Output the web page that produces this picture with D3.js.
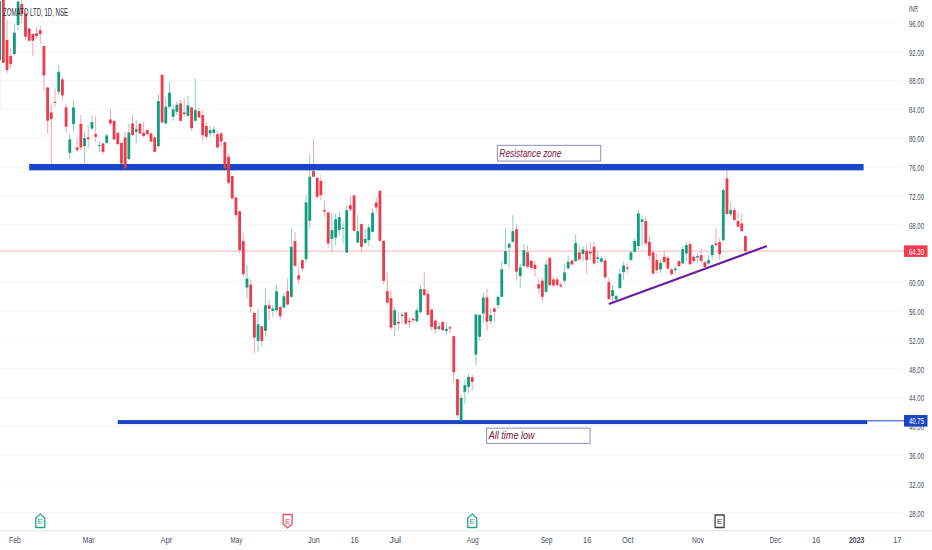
<!DOCTYPE html>
<html>
<head>
<meta charset="utf-8">
<script src="https://cdn.jsdelivr.net/npm/d3@7"></script>
<style>
body { margin: 0; background: #fff; overflow: hidden; }
text { font-family: "Liberation Sans", Arial, sans-serif; }
</style>
</head>
<body>
<script>
let width = 932
let height = 550

let opens = [90.82,99.5,93.59,91.37,91.65,95.68,98.59,97.3,95.22,94.43,
94.52,94.98,92.76,87.02,83.55,85.03,86.42,88.13,84.24,77.94,
81.93,78.69,81.97,78.87,80.07,81.32,80.54,78.87,79.24,79.33,
82.57,82.39,80.72,79.33,80.07,77.07,82.02,80.86,81.97,80.72,
81.09,80.63,80.07,78.87,88.78,82.02,84.33,82.94,83.64,84.8,
83.55,83.08,84.24,82.39,83.73,83.18,81.65,80.63,80.72,80.54,
80.63,79.43,77.39,74.75,71.75,69.85,65.68,59.25,59.66,55.73,
51.84,53.88,53.23,56.79,56.0,56.1,56.56,56.47,58.74,57.95,
65.68,60.96,63.05,63.18,68.51,75.41,74.48,74.02,69.99,69.67,
66.01,66.19,67.21,67.4,64.11,70.68,72.03,65.5,68.04,65.45,
65.82,66.98,71.05,72.67,65.73,58.74,57.77,54.02,54.48,55.31,
55.78,54.62,54.9,54.57,55.82,59.02,58.37,56.19,54.66,53.51,
54.48,53.23,53.74,52.5,46.53,40.74,44.77,45.46,46.81,49.95,
52.41,55.65,57.87,54.58,56.34,56.8,57.96,62.5,64.77,65.6,
67.36,60.83,62.22,64.12,62.96,62.41,59.72,60.19,58.66,63.38,
60.37,60.37,59.63,60.19,61.9,63.01,62.92,64.12,63.89,64.35,
64.21,64.91,63.2,62.82,63.01,60.0,58.06,57.59,59.17,61.39,
62.04,63.06,64.21,65.0,68.38,68.47,65.6,64.12,63.05,61.75,
63.51,63.37,61.75,61.66,62.91,62.59,63.98,65.27,63.51,63.42,
63.74,62.77,62.59,63.74,65.37,65.55,65.83,74.39,69.44,70.0,
68.47,68.14,66.38]

let closes = [99.0,90.45,89.43,90.26,94.61,98.92,97.21,94.06,93.5,93.5,
94.15,94.43,88.69,82.39,82.62,84.89,89.2,85.91,81.56,79.8,
84.24,78.32,78.69,79.98,79.84,82.2,80.17,79.01,78.08,80.35,
82.02,79.8,79.15,76.46,75.77,80.77,80.4,81.23,80.63,80.26,
80.54,79.52,78.08,85.12,82.16,84.33,86.28,83.96,84.61,82.39,
83.32,84.52,81.37,83.87,82.85,80.4,80.17,81.09,81.19,78.69,
79.52,75.77,73.78,71.6,69.29,64.43,61.1,60.5,56.56,52.3,
54.15,51.84,56.79,56.28,56.33,58.74,55.27,58.04,56.89,64.9,
62.26,60.36,61.89,71.05,74.62,74.62,71.84,72.07,69.8,65.36,
67.21,68.74,69.02,67.54,69.99,70.08,67.12,67.07,64.9,66.01,
67.58,69.62,70.36,65.73,60.17,57.16,53.69,56.1,54.25,55.5,
54.25,54.43,54.71,56.1,59.02,58.18,55.45,53.78,53.46,53.88,
53.32,53.51,53.55,47.5,41.53,43.93,45.69,46.85,46.16,55.51,
55.46,57.87,54.49,55.42,55.88,57.96,61.76,64.31,65.28,67.08,
61.44,62.04,64.44,62.13,61.99,61.81,59.12,57.96,62.45,59.58,
59.54,59.58,59.4,61.34,62.82,62.45,65.42,63.15,64.54,63.06,
63.98,62.59,63.43,63.29,60.65,57.64,58.89,58.06,61.16,62.32,
61.85,64.12,65.7,69.54,68.7,65.37,63.65,61.2,61.66,62.68,
62.77,61.89,61.1,61.89,62.22,64.58,65.13,62.49,62.91,63.61,
62.91,62.12,63.05,65.13,65.13,63.88,72.77,69.44,70.0,68.61,
67.68,67.08,64.3]

let highs = [99.5,99.8,96.37,92.44,95.91,99.15,99.15,97.76,95.22,94.52,
95.45,95.54,92.76,87.02,84.7,86.88,90.12,88.41,84.8,80.54,
85.26,80.07,83.18,80.95,81.79,83.18,83.04,79.6,79.33,80.63,
83.96,82.39,80.81,79.33,80.86,82.02,83.32,82.48,82.11,82.25,
81.32,80.86,80.4,86.09,88.78,85.63,87.71,84.57,85.03,85.35,
85.49,85.82,84.33,88.27,84.24,83.87,82.2,81.65,81.74,80.99,
80.86,79.43,77.76,74.75,71.84,69.85,66.75,62.35,60.36,55.73,
56.33,53.88,59.11,57.49,56.79,59.57,56.66,58.51,60.5,67.44,
66.98,62.12,63.14,72.07,77.72,79.8,74.53,74.85,71.24,69.76,
69.67,69.53,69.76,68.37,70.68,71.93,72.03,69.29,68.14,67.44,
68.04,70.22,71.75,72.77,65.73,61.33,58.88,56.56,55.87,55.87,
55.87,55.17,55.17,56.47,59.57,61.42,58.97,56.24,54.94,54.48,
54.52,54.48,53.92,52.5,46.53,44.31,46.39,47.22,47.22,55.51,
55.46,58.52,59.12,56.34,56.57,58.19,62.96,67.45,65.6,69.31,
68.15,62.59,65.28,65.14,63.15,62.96,60.42,60.65,63.06,63.43,
60.74,60.74,60.05,62.45,63.61,63.15,66.62,65.14,65.0,65.37,
65.46,65.6,64.21,63.52,63.52,60.65,59.58,58.2,61.9,62.83,
62.59,64.45,66.07,70.0,69.3,69.16,66.48,64.53,63.98,63.05,
64.35,63.61,62.03,62.12,63.05,65.0,65.6,65.69,63.74,63.98,
64.67,62.87,63.74,65.27,67.45,66.06,73.0,75.55,71.15,70.37,
69.76,69.53,66.38]

let lows = [84.33,90.4,88.96,89.66,91.51,94.98,95.91,93.59,93.36,91.37,
93.83,93.04,86.56,80.63,76.09,84.33,85.95,85.17,80.72,77.16,
80.86,78.04,78.32,76.56,78.55,81.09,79.47,78.04,77.62,79.15,
81.74,79.7,79.01,76.37,75.54,76.93,80.26,79.24,80.49,80.17,
80.4,79.33,77.99,78.69,82.02,81.93,84.1,82.39,83.18,82.25,
82.94,82.94,80.96,82.25,82.71,79.6,79.8,80.17,80.17,78.55,
78.78,75.63,73.59,71.46,68.83,63.97,60.73,57.72,55.73,50.08,
50.31,51.01,52.4,54.71,55.17,55.87,54.8,56.33,56.79,57.86,
62.12,59.71,61.42,62.67,67.44,74.53,71.47,71.38,69.06,64.8,
64.2,65.13,66.52,65.36,64.06,69.76,66.98,65.36,64.11,65.27,
64.99,66.84,69.62,65.59,59.71,56.79,53.32,52.49,53.32,54.25,
54.02,53.69,54.25,54.34,55.64,58.04,55.36,53.32,52.86,53.32,
53.23,52.63,52.86,46.02,41.2,40.65,43.15,44.54,45.0,48.47,
51.85,54.26,53.24,54.17,54.49,56.34,57.87,62.36,61.9,65.46,
60.19,59.21,62.13,61.9,61.67,60.74,58.43,57.27,58.43,59.44,
59.35,59.44,59.21,59.72,61.76,62.36,62.82,62.92,62.82,61.11,
63.15,62.36,62.69,62.59,60.51,57.5,57.27,57.41,59.07,60.28,
61.2,62.96,64.12,64.45,65.0,65.0,63.05,60.97,61.2,61.29,
62.59,61.66,60.87,61.29,62.03,62.49,62.82,62.36,62.68,62.68,
62.68,62.03,62.45,63.14,65.0,63.14,65.6,69.3,69.07,68.51,
67.54,66.99,64.07]

// 64 sits under the last price tag, 40 only peeks out below the low tag
let priceTicks = [96,92,88,84,80,76,72,68,60,56,52,48,44,40,36,32,28]
let dateTickLabels = ["Feb","Mar","Apr","May","Jun","16","Jul","Aug","Sep","16","Oct","Nov","Dec","16","2023","17"]
let dateTickIndex = [4,24,45,64,85,96,107,128,148,159,170,189,210,221,232,243]
let earningsIndex = [11,78,128,195]
let earningsKind = ["up","down","up","flat"]
let lastPrice = 64.30
let lowPrice = 40.75

let red = "#ee3b4c"
let green = "#0f9d7f"
let blue = "#1a46c6"

let x = d3.scaleLinear().domain([0,245]).range([-0.36,904.2])
let y = d3.scaleLinear().domain([96,28]).range([22.7,512.7])

let svg = d3.select("body")
    .append("svg")
    .attr("width", width)
    .attr("height", height)
    .style("display", "block")

// gridlines
svg.append("g").selectAll("line")
    .data(priceTicks)
    .enter()
    .append("line")
    .attr("x1", 0)
    .attr("x2", 903)
    .attr("y1", d => y(d))
    .attr("y2", d => y(d))
    .attr("stroke", "#f4f4f5")

// last price line
svg.append("line")
    .attr("x1", 0)
    .attr("x2", 904)
    .attr("y1", y(lastPrice))
    .attr("y2", y(lastPrice))
    .attr("stroke", "#f5b5bb")

let candles = d3.range(opens.length)

// wicks go under the zone lines, bodies on top
svg.append("g").selectAll("line")
    .data(candles)
    .enter()
    .append("line")
    .attr("x1", d => x(d))
    .attr("x2", d => x(d))
    .attr("y1", d => y(highs[d]))
    .attr("y2", d => y(lows[d]))
    .attr("stroke", d => closes[d] >= opens[d] ? "#8ccfbf" : "#f6a5ad")
    .attr("stroke-width", 1)

// resistance and support zones
svg.append("rect")
    .attr("x", x(8))
    .attr("width", x(234) - x(8))
    .attr("y", y(76.39))
    .attr("height", y(75.51) - y(76.39))
    .attr("fill", blue)

svg.append("rect")
    .attr("x", x(32))
    .attr("width", x(235) - x(32))
    .attr("y", y(40.85))
    .attr("height", y(40.3) - y(40.85))
    .attr("fill", blue)

svg.append("line")
    .attr("x1", x(235))
    .attr("x2", x(245))
    .attr("y1", y(lowPrice))
    .attr("y2", y(lowPrice))
    .attr("stroke", blue)

svg.append("g").selectAll("rect")
    .data(candles)
    .enter()
    .append("rect")
    .attr("x", d => x(d) - 1.4)
    .attr("width", 2.8)
    .attr("y", d => y(Math.max(opens[d], closes[d])))
    .attr("height", d => Math.max(1, Math.abs(y(opens[d]) - y(closes[d]))))
    .attr("fill", d => closes[d] >= opens[d] ? green : red)

// trend line
svg.append("line")
    .attr("x1", x(165))
    .attr("x2", x(207.8))
    .attr("y1", y(56.95))
    .attr("y2", y(65))
    .attr("stroke", "#6a1f9e")
    .attr("stroke-width", 2.2)

// note boxes
function note(i0, i1, top, bottom, label, labelWidth) {
    svg.append("rect")
        .attr("x", x(i0))
        .attr("width", x(i1) - x(i0))
        .attr("y", y(top))
        .attr("height", y(bottom) - y(top))
        .attr("fill", "#fff")
        .attr("stroke", "#8f8cc4")
    svg.append("text")
        .attr("x", x(i0) + 2)
        .attr("y", y(bottom) - 4)
        .attr("font-size", 10)
        .attr("font-style", "italic")
        .attr("fill", "#7c1334")
        .attr("textLength", labelWidth)
        .attr("lengthAdjust", "spacingAndGlyphs")
        .text(label)
}
note(134.8, 162.8, 78.98, 76.8, "Resistance zone", 62)
note(131.9, 159.9, 39.74, 37.62, "All time low", 46)

// title
svg.append("text")
    .attr("x", 3)
    .attr("y", 15.5)
    .attr("font-size", 10)
    .attr("fill", "#2a2e39")
    .attr("textLength", 65)
    .attr("lengthAdjust", "spacingAndGlyphs")
    .text("ZOMATO LTD, 1D, NSE")

// bottom axis line
svg.append("line")
    .attr("x1", 0)
    .attr("x2", width)
    .attr("y1", 530.7)
    .attr("y2", 530.7)
    .attr("stroke", "#e4e4e6")

let xAxis = svg.append("g")
    .attr("transform", "translate(0,531)")
    .call(d3.axisBottom(x)
        .tickValues(dateTickIndex)
        .tickSize(0)
        .tickPadding(5.5)
        .tickFormat((d, i) => dateTickLabels[i]))
xAxis.select(".domain").remove()
xAxis.selectAll("text")
    .attr("font-size", 9.5)
    .attr("font-family", "Liberation Sans")
    .attr("fill", "#4a4e59")
    .attr("font-weight", (d, i) => dateTickLabels[i] == "2023" ? "bold" : "normal")
    .attr("textLength", (d, i) => dateTickLabels[i].length * 3.6 + 1)
    .attr("lengthAdjust", "spacingAndGlyphs")

let yAxis = svg.append("g")
    .attr("transform", "translate(904,0.5)")
    .call(d3.axisRight(y)
        .tickValues(priceTicks)
        .tickSize(0)
        .tickPadding(5)
        .tickFormat(d3.format(".2f")))
yAxis.select(".domain").remove()
yAxis.selectAll("text")
    .attr("font-size", 9.5)
    .attr("font-family", "Liberation Sans")
    .attr("fill", "#4a4e59")
    .attr("textLength", 15)
    .attr("lengthAdjust", "spacingAndGlyphs")

svg.append("text")
    .attr("x", 909)
    .attr("y", 12)
    .attr("font-size", 9.5)
    .attr("fill", "#4a4e59")
    .attr("textLength", 9)
    .attr("lengthAdjust", "spacingAndGlyphs")
    .text("INR")

// price tags
function priceTag(price, colour) {
    svg.append("rect")
        .attr("x", 904)
        .attr("width", 23.5)
        .attr("y", y(price) - 5.8)
        .attr("height", 11.6)
        .attr("fill", colour)
    svg.append("text")
        .attr("x", 909)
        .attr("y", y(price) + 3.4)
        .attr("font-size", 9.5)
        .attr("fill", "#fff")
        .attr("textLength", 15)
        .attr("lengthAdjust", "spacingAndGlyphs")
        .text(price.toFixed(2))
}
priceTag(lastPrice, "#ee3b50")
priceTag(lowPrice, blue)

// earnings flags
let flagPaths = {
    up: "M-4.5,6.5 V-3 L0,-7 L4.5,-3 V6.5 Z",
    down: "M-4.5,-6.5 V3 L0,7 L4.5,3 V-6.5 Z",
    flat: "M-4.5,-6 H4.5 V6.5 H-4.5 Z"
}
let flagColours = { up: "#2aa58a", down: "#ea4a5f", flat: "#444" }

let flags = svg.append("g").selectAll("g")
    .data(earningsIndex)
    .enter()
    .append("g")
    .attr("transform", d => "translate(" + x(d) + ",521)")

flags.append("path")
    .attr("d", (d, i) => flagPaths[earningsKind[i]])
    .attr("fill", "#fff")
    .attr("stroke", (d, i) => flagColours[earningsKind[i]])
    .attr("stroke-width", 1.3)

flags.append("text")
    .attr("y", 3)
    .attr("text-anchor", "middle")
    .attr("font-size", 8)
    .attr("fill", (d, i) => flagColours[earningsKind[i]])
    .text("E")
</script>
</body>
</html>
